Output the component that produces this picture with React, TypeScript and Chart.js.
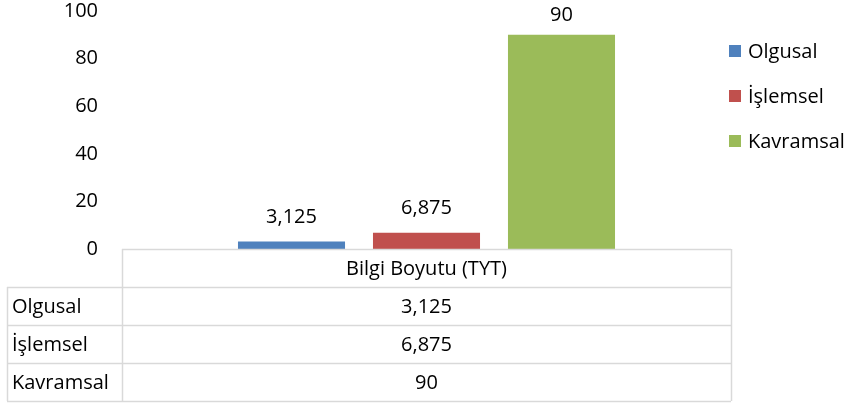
import React, { useEffect, useRef } from "react";
import { Chart, registerables } from "chart.js";

Chart.register(...registerables);

const categories = ["Bilgi Boyutu (TYT)"];
const seriesNames = ["Olgusal", "İşlemsel", "Kavramsal"];
const olgusalValues = [3.125];
const islemselValues = [6.875];
const kavramsalValues = [90];
const yTicks = [0, 20, 40, 60, 80, 100];

const seriesColors = ["#4F81BD", "#C0504D", "#9BBB59"];
const FONT_FAMILY = "'Open Sans', sans-serif";
const FONT_SIZE = 20;
const LINE_COLOR = "#d9d9d9";

const fmt = (v: number) => String(v).replace(".", ",");

const tablePlugin = {
  id: "excelExtras",
  afterDraw(chart: any) {
    const { ctx, chartArea, scales } = chart;
    const yScale = scales.y;
    const xScale = scales.x;
    const zeroY = Math.round(yScale.getPixelForValue(0));
    const left = Math.round(chartArea.left);
    const right = Math.round(chartArea.right);
    const tableLeft = 7;
    const rowH = 38;
    const headerBottom = zeroY + rowH;
    const tableBottom = headerBottom + rowH * chart.data.datasets.length;

    ctx.save();
    ctx.font = `${FONT_SIZE}px ${FONT_FAMILY}`;
    ctx.fillStyle = "#000";

    // data labels above bars
    chart.data.datasets.forEach((ds: any, i: number) => {
      const meta = chart.getDatasetMeta(i);
      meta.data.forEach((bar: any, j: number) => {
        ctx.textAlign = "center";
        ctx.textBaseline = "middle";
        const ty = Math.max(bar.y - 24, chartArea.top + 4);
        ctx.fillText(fmt(ds.data[j]), bar.x, ty);
      });
    });

    // table lines
    ctx.strokeStyle = LINE_COLOR;
    ctx.lineWidth = 1.5;
    const h = (x1: number, x2: number, y: number) => {
      ctx.beginPath();
      ctx.moveTo(x1, y + 0.5);
      ctx.lineTo(x2, y + 0.5);
      ctx.stroke();
    };
    const v = (x: number, y1: number, y2: number) => {
      ctx.beginPath();
      ctx.moveTo(x + 0.5, y1);
      ctx.lineTo(x + 0.5, y2);
      ctx.stroke();
    };
    h(left, right, zeroY);
    for (let r = 0; r <= chart.data.datasets.length; r++) {
      h(tableLeft, right, headerBottom + r * rowH);
    }
    v(left, zeroY, tableBottom);
    v(right, zeroY, tableBottom);
    v(tableLeft, headerBottom, tableBottom);

    // header text and values
    ctx.fillStyle = "#000";
    ctx.textBaseline = "middle";
    chart.data.labels.forEach((lab: string, j: number) => {
      const cx = xScale.getPixelForValue(j);
      ctx.textAlign = "center";
      ctx.fillText(lab, cx, zeroY + rowH / 2 + 1);
      chart.data.datasets.forEach((ds: any, i: number) => {
        const cy = headerBottom + i * rowH + rowH / 2 + 1;
        ctx.textAlign = "center";
        ctx.fillText(fmt(ds.data[j]), cx, cy);
      });
    });
    chart.data.datasets.forEach((ds: any, i: number) => {
      const cy = headerBottom + i * rowH + rowH / 2 + 1;
      ctx.textAlign = "left";
      ctx.fillText(ds.label, tableLeft + 5, cy);
    });

    // legend
    const legX = 729;
    const legY0 = 51;
    const legStep = 45;
    chart.data.datasets.forEach((ds: any, i: number) => {
      const cy = legY0 + i * legStep;
      ctx.fillStyle = ds.backgroundColor;
      ctx.fillRect(legX, cy - 6, 12, 12);
      ctx.fillStyle = "#000";
      ctx.textAlign = "left";
      ctx.textBaseline = "middle";
      ctx.fillText(ds.label, legX + 19, cy + 1);
    });
    ctx.restore();
  },
};

export default function App() {
  const canvasRef = useRef<HTMLCanvasElement | null>(null);

  useEffect(() => {
    if (!canvasRef.current) return;
    const seriesData = [olgusalValues, islemselValues, kavramsalValues];
    const chart = new Chart(canvasRef.current, {
      type: "bar",
      data: {
        labels: categories,
        datasets: seriesNames.map((name, i) => ({
          label: name,
          data: seriesData[i],
          backgroundColor: seriesColors[i],
          borderWidth: 0,
          categoryPercentage: 0.665,
          barPercentage: 0.793,
        })),
      },
      options: {
        animation: false,
        responsive: false,
        devicePixelRatio: 1,
        layout: { padding: { left: 0, right: 119, top: 0, bottom: 154 } },
        plugins: {
          legend: { display: false },
          tooltip: { enabled: false },
          title: { display: false },
        },
        scales: {
          x: { display: false },
          y: {
            min: 0,
            max: 100,
            afterFit: (s: any) => {
              s.width = 122;
              s.paddingTop = 11;
              s.paddingBottom = 11;
            },
            afterBuildTicks: (s: any) => {
              s.ticks = yTicks.map((value) => ({ value }));
            },
            grid: { display: false, drawTicks: false },
            border: { display: false },
            ticks: {
              padding: 24,
              color: "#000",
              font: { family: FONT_FAMILY, size: FONT_SIZE },
            },
          },
        },
      },
      plugins: [tablePlugin],
    });
    return () => chart.destroy();
  }, []);

  return (
    <div style={{ position: "absolute", left: 0, top: 0, width: 850, height: 403 }}>
      <canvas ref={canvasRef} width={850} height={403} />
    </div>
  );
}
